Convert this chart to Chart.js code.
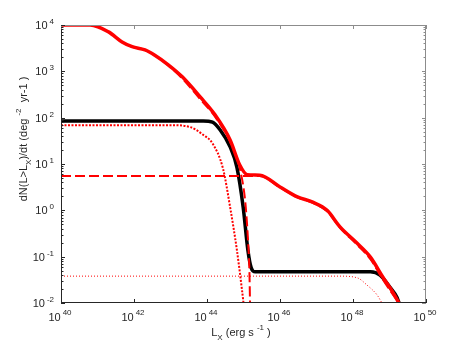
<!DOCTYPE html>
<html>
<head>
<meta charset="utf-8">
<script src="https://cdn.jsdelivr.net/npm/chart.js@4/dist/chart.umd.min.js"></script>
<style>
  html, body { margin: 0; padding: 0; background: #fff; }
  canvas { display: block; }
</style>
</head>
<body>
<canvas id="rateChart" width="471" height="345"></canvas>
<script>
/* dN(L>Lx)/dt vs Lx - log-log curves */

// total (red, thick solid)
const redTotalL = [1e40, 6.3e40, 2e41, 4.7e41, 8.9e41, 2e42, 3.8e42, 8.5e42, 2.1e43, 6.5e43, 1.66e44, 4.3e44, 7.9e44, 1.26e45, 2.8e45, 1e46, 3e46, 7.9e46, 1.95e47, 4.4e47, 1.3e48, 3e48, 6.6e48, 1.26e49, 1.82e49];
const redTotalN = [1e4, 1e4, 7.1e3, 4.3e3, 3.4e3, 2.9e3, 2.2e3, 1.4e3, 760, 280, 115, 33, 9.5, 5.9, 5.75, 3.2, 1.95, 1.5, 1.0, 0.44, 0.195, 0.098, 0.036, 0.0166, 0.01];

// low-luminosity component (red dashed)
const redLowL = [1e40, 6.3e40, 2e41, 4.7e41, 8.9e41, 2e42, 3.8e42, 8.5e42, 2.1e43, 6.5e43, 1.66e44, 4.3e44, 7.9e44, 1.12e45, 1.32e45, 1.45e45, 1.51e45];
const redLowN = [1e4, 1e4, 7.1e3, 4.3e3, 3.4e3, 2.9e3, 2.2e3, 1.35e3, 700, 250, 105, 30, 8, 1.5, 0.25, 0.05, 0.01];

// high-luminosity component (red dashed)
const redHighL = [1e40, 1.26e45, 2.8e45, 1e46, 3e46, 7.9e46, 1.95e47, 4.4e47, 1.3e48, 3e48, 6.6e48, 1.26e49, 1.82e49];
const redHighN = [5.5, 5.5, 5.5, 3.1, 1.9, 1.45, 0.95, 0.42, 0.18, 0.088, 0.032, 0.015, 0.01];

// total (black, thick solid)
const blackTotalL = [1e40, 7.9e43, 1.41e44, 2.3e44, 4.3e44, 6.6e44, 9.8e44, 1.32e45, 1.62e45, 2.1e45, 3e48, 5.5e48, 1.02e49, 1.62e49, 1.82e49];
const blackTotalN = [85, 85, 80, 54, 23.4, 8.5, 1.17, 0.138, 0.058, 0.047, 0.047, 0.04, 0.022, 0.013, 0.01];

// components of the black curve (red dotted, thick and thin)
const dotLowL = [1e40, 9.8e42, 3.4e43, 7.8e43, 1.41e44, 2.75e44, 4.3e44, 6.6e44, 9.1e44, 1e45];
const dotLowN = [69, 69, 63, 42.7, 28, 7.9, 1.17, 0.138, 0.019, 0.01];
const dotHighL = [1e40, 4.4e47, 1.3e48, 2.4e48, 4.6e48, 6.2e48];
const dotHighN = [0.038, 0.038, 0.035, 0.0245, 0.0148, 0.01];

// axes
const X_MIN = 1e40, X_MAX = 1e50, Y_MIN = 1e-2, Y_MAX = 1e4;
const X_TICKS = [1e40, 1e42, 1e44, 1e46, 1e48, 1e50];
const X_TICK_EXP = ['40', '42', '44', '46', '48', '50'];
const Y_TICKS = [1e-2, 1e-1, 1e0, 1e1, 1e2, 1e3, 1e4];
const Y_TICK_EXP = ['-2', '-1', '0', '1', '2', '3', '4'];

const FONT = '"Liberation Sans", Arial, Helvetica, sans-serif';
const pts = (xs, ys) => xs.map((x, i) => ({ x, y: ys[i] }));

function hline(ctx, x1, x2, y) { ctx.beginPath(); ctx.moveTo(x1, y); ctx.lineTo(x2, y); ctx.stroke(); }
function vline(ctx, x, y1, y2) { ctx.beginPath(); ctx.moveTo(x, y1); ctx.lineTo(x, y2); ctx.stroke(); }

// parts: [{t, s}] with s = 'sup' | 'sub' | undefined
function richWidth(ctx, parts) {
  return parts.reduce((w, p) => {
    ctx.font = (p.s ? 8 : 11) + 'px ' + FONT;
    return w + ctx.measureText(p.t).width;
  }, 0);
}
function drawRich(ctx, parts, x, y) {
  ctx.textAlign = 'left';
  ctx.textBaseline = 'alphabetic';
  parts.forEach(p => {
    ctx.font = (p.s ? 8 : 11) + 'px ' + FONT;
    const dy = p.s === 'sup' ? -6 : p.s === 'sub' ? 4 : 0;
    ctx.fillText(p.t, x, y + dy);
    x += ctx.measureText(p.t).width;
  });
}

const axisDecor = {
  id: 'axisDecor',
  afterDatasetsDraw(chart) {
    const { ctx, chartArea: a, scales: { x, y } } = chart;
    ctx.save();
    ctx.lineWidth = 1;

    // frame: top/right light, bottom/left dark
    ctx.strokeStyle = '#8c8c8c';
    hline(ctx, a.left, a.right, a.top + 0.5);
    vline(ctx, a.right - 0.5, a.top, a.bottom);
    ctx.strokeStyle = '#262626';
    hline(ctx, a.left, a.right, a.bottom - 0.5);
    vline(ctx, a.left + 0.5, a.top, a.bottom);

    // x ticks (bottom + top)
    X_TICKS.forEach(v => {
      const px = Math.round(x.getPixelForValue(v)) + 0.5;
      ctx.strokeStyle = '#262626';
      vline(ctx, px, a.bottom, a.bottom - 4);
      ctx.strokeStyle = '#8c8c8c';
      vline(ctx, px, a.top, a.top + 4);
    });

    // y ticks, major and minor (left + right)
    Y_TICKS.forEach(v => {
      for (let k = 1; k <= 9; k++) {
        const val = v * k;
        if (val > Y_MAX * 1.0001) break;
        const py = Math.round(y.getPixelForValue(val)) + 0.5;
        const len = k === 1 ? 4 : 2.5;
        ctx.strokeStyle = '#262626';
        hline(ctx, a.left, a.left + len, py);
        ctx.strokeStyle = '#8c8c8c';
        hline(ctx, a.right - len, a.right, py);
      }
    });

    // tick labels
    ctx.fillStyle = '#262626';
    X_TICKS.forEach((v, i) => {
      const px = x.getPixelForValue(v);
      ctx.font = '11px ' + FONT;
      const w10 = ctx.measureText('10').width;
      ctx.font = '8px ' + FONT;
      const we = ctx.measureText(X_TICK_EXP[i]).width;
      const x0 = px - 1 - (w10 + 2 + we) / 2;
      ctx.textAlign = 'left';
      ctx.font = '11px ' + FONT;
      ctx.fillText('10', x0, a.bottom + 18);
      ctx.font = '8px ' + FONT;
      ctx.fillText(X_TICK_EXP[i], x0 + w10 + 2, a.bottom + 12);
    });
    Y_TICKS.forEach((v, i) => {
      const py = y.getPixelForValue(v);
      ctx.font = '8px ' + FONT;
      const we = ctx.measureText(Y_TICK_EXP[i]).width;
      ctx.font = '11px ' + FONT;
      const w10 = ctx.measureText('10').width;
      const x0 = a.left - 7 - we - 2 - w10;
      ctx.textAlign = 'left';
      ctx.fillText('10', x0, py + 4);
      ctx.font = '8px ' + FONT;
      ctx.fillText(Y_TICK_EXP[i], x0 + w10 + 2, py - 1);
    });

    // x title
    const xTitle = [{ t: 'L' }, { t: 'X', s: 'sub' }, { t: ' (erg s ' }, { t: '-1', s: 'sup' }, { t: ' )' }];
    drawRich(ctx, xTitle, 241 - richWidth(ctx, xTitle) / 2, 336);

    // y title (rotated)
    const yTitle = [{ t: 'dN(L>L' }, { t: 'X', s: 'sub' }, { t: ')/dt (deg ' }, { t: '-2', s: 'sup' }, { t: '  yr-1 )' }];
    ctx.translate(27, 139);
    ctx.rotate(-Math.PI / 2);
    drawRich(ctx, yTitle, -richWidth(ctx, yTitle) / 2, 0);

    ctx.restore();
  }
};

const hidden = {
  display: true,
  grid: { display: false, drawTicks: false },
  border: { display: false },
  ticks: { display: false }
};

new Chart(document.getElementById('rateChart'), {
  type: 'line',
  data: {
    datasets: [
      { label: 'total', data: pts(redTotalL, redTotalN), borderColor: '#ff0000', borderWidth: 3.5, order: 0 },
      { label: 'low', data: pts(redLowL, redLowN), borderColor: '#ff0000', borderWidth: 2, borderDash: [10, 4], order: 1 },
      { label: 'high', data: pts(redHighL, redHighN), borderColor: '#ff0000', borderWidth: 2, borderDash: [10, 4], order: 1 },
      { label: 'black total', data: pts(blackTotalL, blackTotalN), borderColor: '#000000', borderWidth: 3.5, order: 2 },
      { label: 'dot low', data: pts(dotLowL, dotLowN), borderColor: '#ff0000', borderWidth: 2, borderDash: [2, 1.5], order: 3 },
      { label: 'dot high', data: pts(dotHighL, dotHighN), borderColor: '#ff0000', borderWidth: 1, borderDash: [1, 2], order: 3 }
    ]
  },
  options: {
    responsive: false,
    animation: false,
    devicePixelRatio: 1,
    layout: { padding: { left: 61, right: 45, top: 25, bottom: 42 } },
    elements: {
      point: { radius: 0, hoverRadius: 0 },
      line: { cubicInterpolationMode: 'monotone', fill: false }
    },
    plugins: { legend: { display: false }, tooltip: { enabled: false } },
    scales: {
      x: { type: 'logarithmic', min: X_MIN, max: X_MAX, ...hidden },
      y: { type: 'logarithmic', min: Y_MIN, max: Y_MAX, ...hidden }
    }
  },
  plugins: [axisDecor]
});
</script>
</body>
</html>
